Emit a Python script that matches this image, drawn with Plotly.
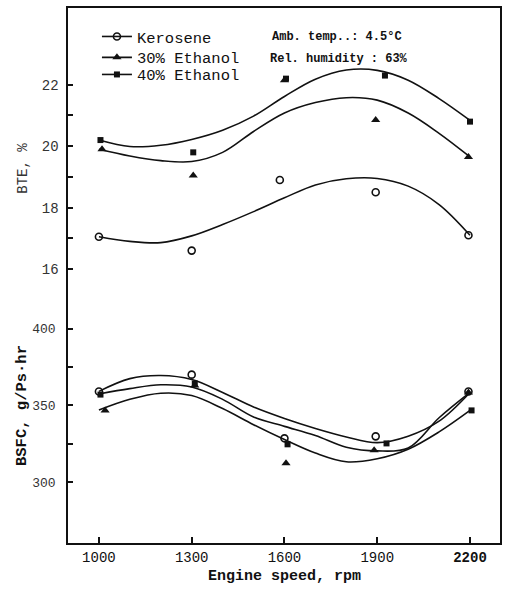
import plotly.graph_objects as go

# ---------------- data ----------------
CURVE_RPM = [1000, 1100, 1200, 1300, 1400, 1500, 1600, 1700, 1800, 1900, 2000, 2100, 2200]

# BTE, %  (measured points)
BTE_KERO_RPM = [1000, 1300, 1585, 1895, 2195]
BTE_KERO = [17.05, 16.6, 18.9, 18.5, 17.1]
BTE_E30_RPM = [1010, 1305, 1600, 1895, 2195]
BTE_E30 = [19.9, 19.05, 22.15, 20.85, 19.65]
BTE_E40_RPM = [1005, 1305, 1605, 1925, 2200]
BTE_E40 = [20.2, 19.8, 22.2, 22.3, 20.8]

# BTE fitted curves
BTE_KERO_FIT = [17.05, 16.9, 16.86, 17.08, 17.45, 17.87, 18.32, 18.74, 18.94, 18.95, 18.7, 18.1, 17.1]
BTE_E30_FIT = [19.9, 19.68, 19.53, 19.5, 19.8, 20.48, 21.08, 21.42, 21.58, 21.5, 21.08, 20.42, 19.65]
BTE_E40_FIT = [20.2, 19.99, 20.03, 20.22, 20.52, 20.98, 21.62, 22.18, 22.48, 22.47, 22.15, 21.55, 20.84]

# BSFC, g/Ps.hr (measured points)
BSFC_KERO_RPM = [1000, 1300, 1600, 1895, 2195]
BSFC_KERO = [359.1, 370.1, 328.6, 329.9, 359.1]
BSFC_E30_RPM = [1020, 1310, 1605, 1890, 2195]
BSFC_E30 = [346.8, 363.0, 312.3, 320.8, 358.4]
BSFC_E40_RPM = [1005, 1310, 1610, 1930, 2205]
BSFC_E40 = [357.1, 364.3, 324.7, 325.3, 346.8]

# BSFC fitted curves
BSFC_KERO_FIT = [359.2, 367.5, 369.5, 366.9, 358.5, 349.0, 341.5, 335.0, 329.5, 325.8, 330.0, 339.8, 358.5]
BSFC_E40_FIT = [357.5, 361.0, 363.5, 362.0, 354.0, 342.5, 336.4, 330.4, 322.8, 320.4, 322.3, 342.0, 358.5]
BSFC_E30_FIT = [347.0, 354.0, 358.0, 356.5, 348.0, 337.5, 327.8, 319.0, 313.3, 315.3, 321.5, 332.8, 346.8]

X_TICKS = [1000, 1300, 1600, 1900, 2200]
X_TICKTEXT = ["1000", "1300", "1600", "1900", "<b>2200</b>"]
BTE_TICKS = [16, 17, 18, 19, 20, 21, 22]
BTE_TICKTEXT = ["16", "", "18", "", "20", "", "22"]
BSFC_TICKS = [300, 325, 350, 375, 400]
BSFC_TICKTEXT = ["300", "", "350", "", "400"]

SERIES = ["Kerosene", "30% Ethanol", "40% Ethanol"]

# ---------------- styles ----------------
MONO = "Liberation Mono"
BLACK = "#111111"
NBSP = "\u00a0"
MK = {
    "Kerosene": dict(symbol="circle-open", size=7, color=BLACK, line=dict(width=1.6, color=BLACK)),
    "30% Ethanol": dict(symbol="triangle-up", size=8, color=BLACK, line=dict(width=0)),
    "40% Ethanol": dict(symbol="square", size=6, color=BLACK, line=dict(width=0)),
}
LINE = dict(color=BLACK, width=1.6, shape="spline", smoothing=1.0)

fig = go.Figure()

# BTE curves and points (yaxis2)
for name, fit, rx, ry in [
    ("Kerosene", BTE_KERO_FIT, BTE_KERO_RPM, BTE_KERO),
    ("30% Ethanol", BTE_E30_FIT, BTE_E30_RPM, BTE_E30),
    ("40% Ethanol", BTE_E40_FIT, BTE_E40_RPM, BTE_E40),
]:
    fig.add_trace(go.Scatter(x=CURVE_RPM, y=fit, mode="lines", line=LINE,
                             yaxis="y2", showlegend=False, hoverinfo="skip"))
    fig.add_trace(go.Scatter(x=rx, y=ry, mode="markers", marker=MK[name],
                             yaxis="y2", showlegend=False, name=name))

# BSFC curves and points (yaxis)
for name, fit, rx, ry in [
    ("Kerosene", BSFC_KERO_FIT, BSFC_KERO_RPM, BSFC_KERO),
    ("30% Ethanol", BSFC_E30_FIT, BSFC_E30_RPM, BSFC_E30),
    ("40% Ethanol", BSFC_E40_FIT, BSFC_E40_RPM, BSFC_E40),
]:
    fig.add_trace(go.Scatter(x=CURVE_RPM, y=fit, mode="lines", line=LINE,
                             yaxis="y", showlegend=False, hoverinfo="skip"))
    fig.add_trace(go.Scatter(x=rx, y=ry, mode="markers", marker=MK[name],
                             yaxis="y", showlegend=False, name=name))

# legend entries, one small legend per row so rows sit where the reference has them
LEGEND_IDS = ["legend", "legend2", "legend3"]
LEGEND_Y = [0.946, 0.907, 0.875]
for name, lid in zip(SERIES, LEGEND_IDS):
    fig.add_trace(go.Scatter(x=[None], y=[None], mode="lines+markers", name=name,
                             legend=lid, line=dict(color=BLACK, width=1.6), marker=MK[name]))

legend_common = dict(x=0.067, xanchor="left", yanchor="middle",
                     bgcolor="rgba(0,0,0,0)", borderwidth=0,
                     font=dict(family=MONO, size=15.5, color=BLACK), itemwidth=30)

fig.update_layout(
    width=510, height=589,
    margin=dict(l=68, r=10, t=6, b=46),
    paper_bgcolor="white", plot_bgcolor="white",
    font=dict(family=MONO, color=BLACK),
    showlegend=True,
    legend=dict(y=LEGEND_Y[0], **legend_common),
    legend2=dict(y=LEGEND_Y[1], **legend_common),
    legend3=dict(y=LEGEND_Y[2], **legend_common),
    xaxis=dict(range=[900, 2297], tickvals=X_TICKS, ticktext=X_TICKTEXT,
               ticks="inside", ticklen=6, tickwidth=1.5, tickcolor=BLACK,
               showline=True, linewidth=2, linecolor=BLACK, mirror=True,
               showgrid=False, zeroline=False,
               tickfont=dict(family=MONO, size=14, color=BLACK)),
    yaxis=dict(range=[260.4, 609.0], tickvals=BSFC_TICKS,
               ticktext=[t + NBSP if t else t for t in BSFC_TICKTEXT],
               ticks="inside", ticklen=5, tickwidth=1.5, tickcolor=BLACK,
               showline=True, linewidth=2, linecolor=BLACK, mirror=True,
               showgrid=False, zeroline=False,
               tickfont=dict(family=MONO, size=13, color="#333333")),
    yaxis2=dict(range=[7.08, 24.5], tickvals=BTE_TICKS,
                ticktext=[t + NBSP if t else t for t in BTE_TICKTEXT],
                overlaying="y", side="left", anchor="x",
                ticks="inside", ticklen=5, tickwidth=1.5, tickcolor=BLACK,
                showline=False, showgrid=False, zeroline=False,
                tickfont=dict(family=MONO, size=14, color="#333333")),
)

annos = [
    dict(text="Amb. temp..: 4.5°C", x=0.468, y=0.946),
    dict(text="Rel. humidity : 63%", x=0.463, y=0.905),
]
for a in annos:
    fig.add_annotation(xref="paper", yref="paper", xanchor="left", yanchor="middle",
                       showarrow=False, font=dict(family=MONO, size=12, color=BLACK),
                       text="<b>" + a["text"] + "</b>", x=a["x"], y=a["y"])

fig.add_annotation(xref="paper", yref="paper", x=-0.106, y=0.70, text="BTE, %",
                   textangle=-90, showarrow=False, xanchor="center", yanchor="middle",
                   font=dict(family=MONO, size=14, color="#333333"))
fig.add_annotation(xref="paper", yref="paper", x=-0.106, y=0.2565, text="<b>BSFC, g/Ps·hr</b>",
                   textangle=-90, showarrow=False, xanchor="center", yanchor="middle",
                   font=dict(family=MONO, size=15.5, color=BLACK))
fig.add_annotation(xref="paper", yref="paper", x=0.5, y=-0.063, text="<b>Engine speed, rpm</b>",
                   showarrow=False, xanchor="center", yanchor="middle",
                   font=dict(family=MONO, size=15, color=BLACK))

fig.write_html("out.html", config={"displayModeBar": False},
               post_script="document.body.style.margin='0px';")
